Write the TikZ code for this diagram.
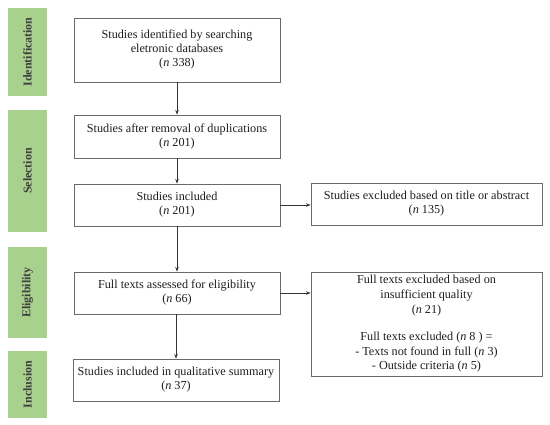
\documentclass[tikz,border=0pt]{standalone}
\usepackage{fontspec}
\setmainfont{Liberation Serif}
\usetikzlibrary{arrows.meta}
\definecolor{barg}{HTML}{A9D18E}
\definecolor{bartxt}{HTML}{3F3F3F}
\definecolor{boxline}{HTML}{6A6A6A}
\definecolor{txt}{HTML}{1E1E1E}
\tikzset{
  box/.style={draw=boxline, line width=0.9pt, fill=white, align=center, inner sep=0pt,
    text=txt, font=\fontsize{12.2}{14}\selectfont},
  phase/.style={fill=barg, draw=none, minimum width=39pt, inner sep=0pt, text=bartxt,
    font=\fontsize{12}{14}\selectfont\bfseries},
  arr/.style={draw=black!80, line width=0.8pt, -{Stealth[length=4.5pt,width=3.5pt]}}
}
\begin{document}
\begin{tikzpicture}[x=1pt,y=-1pt]
\useasboundingbox (0,0) rectangle (550,425);
% phase bars
\node[phase, minimum height=88pt] (pid) at (27.5,52) {};
\node[rotate=90, text=bartxt, font=\fontsize{12}{14}\selectfont\bfseries] at (pid.center) {Identification};
\node[phase, minimum height=122pt] (psel) at (27.5,171) {};
\node[rotate=90, text=bartxt, font=\fontsize{12}{14}\selectfont\bfseries] at (psel.center) {Selection};
\node[phase, minimum height=91pt] (pel) at (27.5,292.5) {};
\node[rotate=90, text=bartxt, font=\fontsize{12}{14}\selectfont\bfseries] at (pel.center) {Eligibility};
\node[phase, minimum height=67pt] (pin) at (27.5,384.5) {};
\node[rotate=90, text=bartxt, font=\fontsize{12}{14}\selectfont\bfseries] at (pin.center) {Inclusion};
% main boxes
\node[box, minimum width=206pt, minimum height=64pt] (b1) at (177,50)
  {Studies identified by searching\\eletronic databases\\(\textit{n} 338)};
\node[box, minimum width=206pt, minimum height=43pt] (b2) at (177,136.5)
  {Studies after removal of duplications\\(\textit{n} 201)};
\node[box, minimum width=206pt, minimum height=42pt] (b3) at (177,205)
  {Studies included\\(\textit{n} 201)};
\node[box, minimum width=206pt, minimum height=42pt] (b4) at (177,293)
  {Full texts assessed for eligibility\\(\textit{n} 66)};
\node[box, minimum width=206pt, minimum height=42pt] (b5) at (176,380)
  {Studies included in qualitative summary\\(\textit{n} 37)};
% right boxes
\node[box, minimum width=231pt, minimum height=42pt] (r1) at (426.5,204)
  {Studies excluded based on title or abstract\\(\textit{n} 135)};
\node[box, minimum width=231pt, minimum height=104pt, font=\fontsize{12.2}{14.8}\selectfont] (r2) at (426.5,324)
  {Full texts excluded based on\\insufficient quality\\(\textit{n} 21)\\[12pt]
   Full texts excluded (\textit{n} 8 ) =\\- Texts not found in full (\textit{n} 3)\\- Outside criteria (\textit{n} 5)};
% arrows
\draw[arr] (b1.south) -- (b2.north);
\draw[arr] (b2.south) -- (b3.north);
\draw[arr] (b3.south) -- (b4.north);
\draw[arr] (b4.south -| b5.north) -- (b5.north);
\draw[arr] (b3.east) -- (r1.west |- b3.east);
\draw[arr] (b4.east) -- (r2.west |- b4.east);
\end{tikzpicture}
\end{document}
